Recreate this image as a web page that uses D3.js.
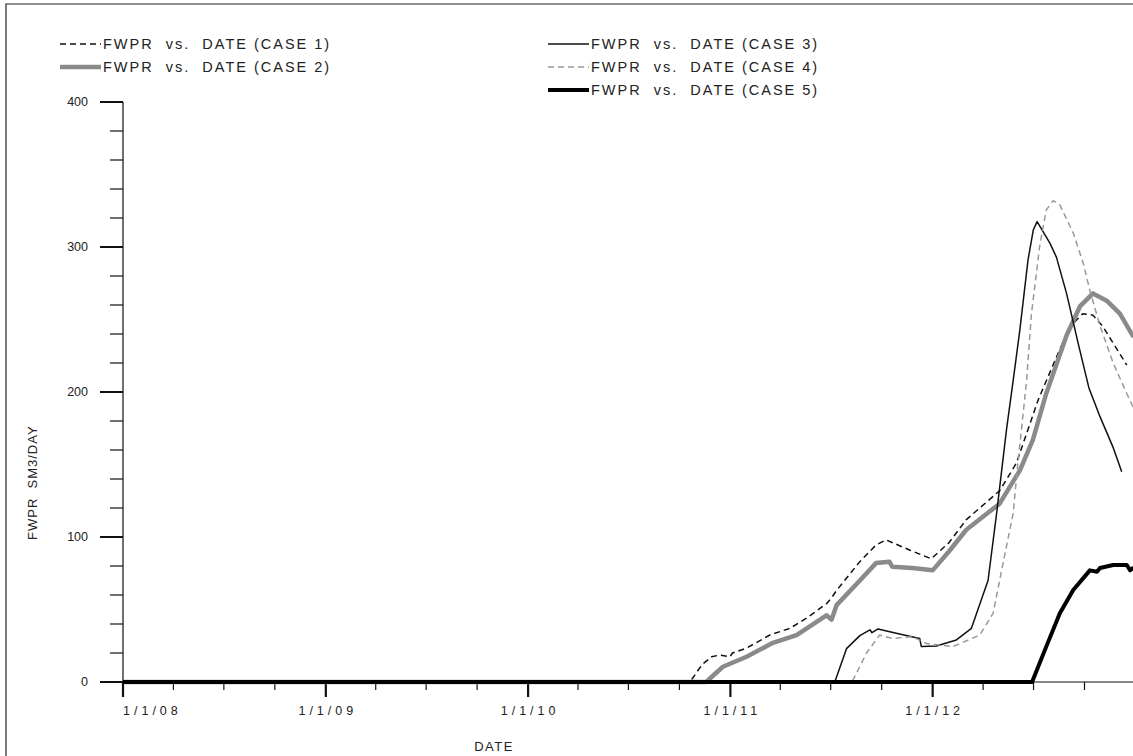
<!DOCTYPE html>
<html>
<head>
<meta charset="utf-8">
<script src="https://cdn.jsdelivr.net/npm/d3@7"></script>
<style>
  body { margin: 0; background: #fff; }
  svg { display: block; }
  text { font-family: "Liberation Sans", Arial, sans-serif; fill: #222; }
</style>
</head>
<body>
<svg width="1133" height="756"></svg>
<script>
// values: [decimal year, FWPR sm3/day]
const case1 = [
  [2008, 0], [2010.8, 0], [2010.86, 12], [2010.907, 17.4], [2010.948, 18.6],
  [2010.998, 17.4], [2011.01, 20], [2011.08, 23.4], [2011.195, 32.4],
  [2011.294, 37], [2011.376, 44], [2011.475, 54], [2011.5, 58], [2011.524, 63],
  [2011.64, 83], [2011.72, 94.5], [2011.77, 98], [2011.886, 91], [2011.993, 85],
  [2012.08, 96], [2012.166, 112], [2012.331, 132], [2012.413, 151],
  [2012.52, 194.5], [2012.61, 224], [2012.676, 245], [2012.74, 254],
  [2012.79, 253], [2012.84, 245], [2012.957, 218.6]
];
const case2 = [
  [2008, 0], [2010.88, 0], [2010.963, 10.5], [2011.08, 17.4], [2011.21, 27],
  [2011.327, 32.4], [2011.475, 46], [2011.5, 43], [2011.525, 53],
  [2011.64, 70], [2011.72, 82], [2011.786, 83], [2011.8, 79.5], [2011.9, 78.6],
  [2012.0, 77], [2012.08, 90], [2012.166, 105], [2012.33, 123], [2012.43, 146],
  [2012.494, 167], [2012.56, 199], [2012.66, 239], [2012.726, 259],
  [2012.79, 268], [2012.858, 263], [2012.923, 254], [2012.99, 238]
];
const case3 = [
  [2008, 0], [2011.516, 0], [2011.574, 23], [2011.64, 32], [2011.69, 36],
  [2011.7, 34], [2011.73, 36.6], [2011.82, 33.6], [2011.936, 30],
  [2011.944, 24.4], [2012.018, 24.8], [2012.117, 29], [2012.191, 37],
  [2012.273, 70], [2012.315, 116], [2012.364, 174], [2012.397, 208],
  [2012.43, 243], [2012.47, 291], [2012.496, 311.7], [2012.515, 317.5],
  [2012.578, 302.7], [2012.61, 293], [2012.66, 268], [2012.72, 232],
  [2012.77, 203], [2012.825, 183], [2012.889, 162], [2012.932, 145]
];
const case4 = [
  [2008, 0], [2011.6, 0], [2011.615, 3.7], [2011.673, 20], [2011.738, 32.4],
  [2011.8, 30], [2011.9, 31.3], [2011.97, 26.5], [2012.1, 24.4],
  [2012.232, 32.4], [2012.298, 47.4], [2012.347, 82], [2012.397, 116.4],
  [2012.42, 151], [2012.446, 185], [2012.463, 208], [2012.487, 254],
  [2012.528, 301], [2012.56, 325.5], [2012.594, 332], [2012.627, 329],
  [2012.693, 309.7], [2012.742, 289], [2012.775, 270], [2012.825, 245.7],
  [2012.89, 220], [2012.957, 199], [2012.99, 189]
];
const case5 = [
  [2008, 0], [2012.49, 0], [2012.56, 24.4], [2012.627, 47.4], [2012.693, 63.4],
  [2012.775, 77], [2012.81, 76], [2012.825, 78.6], [2012.89, 80.7],
  [2012.957, 80.7], [2012.974, 77], [2012.99, 79]
];

const caseNames = [
  "FWPR  vs.  DATE (CASE 1)", "FWPR  vs.  DATE (CASE 2)", "FWPR  vs.  DATE (CASE 3)",
  "FWPR  vs.  DATE (CASE 4)", "FWPR  vs.  DATE (CASE 5)"
];
const yTicks = [0, 100, 200, 300, 400];

const series = [
  { name: caseNames[0], data: case1, color: "#111", width: 1.5, dash: "6,4", lx: 60, ly: 44 },
  { name: caseNames[1], data: case2, color: "#8a8a8a", width: 4.5, dash: null, lx: 60, ly: 67 },
  { name: caseNames[2], data: case3, color: "#111", width: 1.5, dash: null, lx: 548, ly: 44 },
  { name: caseNames[3], data: case4, color: "#999", width: 1.5, dash: "6,4", lx: 548, ly: 67 },
  { name: caseNames[4], data: case5, color: "#000", width: 4, dash: null, lx: 548, ly: 90 },
];

function toDate(y) {
  const yr = Math.floor(y);
  const a = Date.UTC(yr, 0, 1), b = Date.UTC(yr + 1, 0, 1);
  return new Date(a + (y - yr) * (b - a));
}

const svg = d3.select("svg");

// frame (only left and top edges show in the picture)
svg.append("path")
  .attr("d", "M6,756V4H1133")
  .attr("fill", "none")
  .attr("stroke", "#222")
  .attr("stroke-width", 1.2);

const x = d3.scaleUtc()
  .domain([new Date(Date.UTC(2008, 0, 1)), new Date(Date.UTC(2013, 0, 1))])
  .range([123, 1135.5]);
const y = d3.scaleLinear().domain([0, 400]).range([682, 102]);

// y axis
const yAxis = svg.append("g").attr("stroke", "#111").attr("stroke-width", 1.2);
yAxis.append("line").attr("x1", 123).attr("x2", 123).attr("y1", y(400)).attr("y2", 697);
yAxis.selectAll(".minor")
  .data(d3.range(0, 401, 20))
  .enter().append("line")
  .attr("x1", (d) => (d % 100 === 0 ? 100 : 110))
  .attr("x2", 123)
  .attr("y1", (d) => y(d))
  .attr("y2", (d) => y(d))
  .attr("stroke-width", (d) => (d % 100 === 0 ? 2 : 1.2));
svg.selectAll(".ylab")
  .data(yTicks)
  .enter().append("text")
  .attr("x", 88)
  .attr("y", (d) => y(d) + 4)
  .attr("text-anchor", "end")
  .attr("font-size", "12.5px")
  .attr("fill", "#333")
  .text((d) => d);

// x axis
const xAxis = svg.append("g").attr("stroke", "#111").attr("stroke-width", 1.2);
xAxis.append("line").attr("x1", 100).attr("x2", 1133).attr("y1", 682).attr("y2", 682);
const quarters = d3.utcMonth.every(3).range(x.domain()[0], x.domain()[1]);
xAxis.selectAll(".xt")
  .data(quarters)
  .enter().append("line")
  .attr("x1", (d) => x(d))
  .attr("x2", (d) => x(d))
  .attr("y1", 682)
  .attr("y2", (d) => (d.getUTCMonth() === 0 ? 697 : 690))
  .attr("stroke-width", (d) => (d.getUTCMonth() === 0 ? 2.2 : 1.2));
const fmt = d3.utcFormat("%-m/%-d/%y");
svg.selectAll(".xlab")
  .data(d3.utcYear.range(x.domain()[0], x.domain()[1]))
  .enter().append("text")
  .attr("x", (d, i) => (i === 0 ? x(d) : x(d) + 2))
  .attr("y", 715)
  .attr("text-anchor", (d, i) => (i === 0 ? "start" : "middle"))
  .attr("font-size", "12.5px")
  .attr("letter-spacing", "4px")
  .attr("fill", "#333")
  .text((d) => fmt(d));

svg.append("text")
  .attr("x", 494)
  .attr("y", 751)
  .attr("text-anchor", "middle")
  .attr("font-size", "13px")
  .attr("letter-spacing", "1.5px")
  .attr("fill", "#333")
  .text("DATE");

svg.append("text")
  .attr("transform", "translate(37,540) rotate(-90)")
  .attr("font-size", "13px")
  .attr("letter-spacing", "1px")
  .attr("fill", "#333")
  .style("white-space", "pre")
  .text("FWPR  SM3/DAY");

// curves
const line = d3.line()
  .x((d) => x(toDate(d[0])))
  .y((d) => y(d[1]));

svg.selectAll(".curve")
  .data(series)
  .enter().append("path")
  .attr("d", (d) => line(d.data))
  .attr("fill", "none")
  .attr("stroke", (d) => d.color)
  .attr("stroke-width", (d) => d.width)
  .attr("stroke-dasharray", (d) => d.dash)
  .attr("stroke-linejoin", "round");

// legend
const leg = svg.selectAll(".leg")
  .data(series)
  .enter().append("g")
  .attr("transform", (d) => `translate(${d.lx},${d.ly})`);
leg.append("line")
  .attr("x1", 0).attr("x2", 41)
  .attr("stroke", (d) => d.color)
  .attr("stroke-width", (d) => d.width)
  .attr("stroke-dasharray", (d) => d.dash);
leg.append("text")
  .attr("x", 43)
  .attr("y", 5)
  .attr("font-size", "14.5px")
  .attr("letter-spacing", "2px")
  .style("white-space", "pre")
  .text((d) => d.name);
</script>
</body>
</html>
